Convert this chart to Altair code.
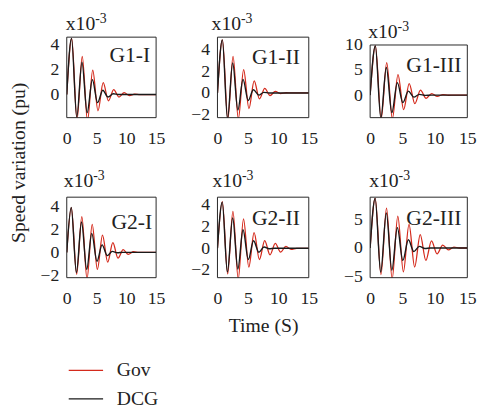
import altair as alt
import pandas as pd

FONT = "Liberation Serif"
RED = "#d42a1c"
BLACK = "#1a1a1a"
TXT = "#222222"
FRAME = "#262626"

series_names = ["Gov", "DCG"]
panel_names = ["G1-I", "G1-II", "G1-III", "G2-I", "G2-II", "G2-III"]
exp_base = "x10"
exp_power = "-3"
y_title = "Speed variation (pu)"
x_title = "Time (S)"
x_ticks = [0, 5, 10, 15]

# ---- G1-I ----
g1i_gov_t = [0, 0.83, 1.72, 2.6, 3.48, 4.36, 5.24, 6.12, 7.0, 7.88, 8.76, 9.64, 10.52, 11.4, 12.3, 15]
g1i_gov_v = [0, 4.5, -2.0, 3.05, -2.1, 1.95, -1.3, 0.95, -0.5, 0.4, -0.2, 0.15, -0.08, 0.04, 0, 0]
g1i_dcg_t = [0, 0.8, 1.68, 2.55, 3.42, 4.3, 5.17, 6.05, 6.92, 7.8, 8.7, 15]
g1i_dcg_v = [0, 4.5, -1.8, 2.6, -1.45, 1.2, -0.65, 0.35, -0.2, 0.06, 0, 0]
# ---- G1-II ----
g1ii_gov_t = [0, 0.82, 1.7, 2.56, 3.43, 4.3, 5.17, 6.03, 6.9, 7.77, 8.64, 9.5, 10.37, 11.3, 12.2, 15]
g1ii_gov_v = [0, 4.95, -2.45, 3.4, -2.4, 2.18, -1.45, 1.12, -0.55, 0.42, -0.24, 0.14, -0.06, 0.02, 0, 0]
g1ii_dcg_t = [0, 0.8, 1.65, 2.5, 3.35, 4.2, 5.05, 5.9, 6.8, 7.6, 8.5, 15]
g1ii_dcg_v = [0, 4.95, -2.4, 2.8, -1.6, 1.27, -0.7, 0.3, -0.2, 0.05, 0, 0]
# ---- G1-III ----
g1iii_gov_t = [0, 0.82, 1.7, 2.56, 3.43, 4.3, 5.17, 6.03, 6.9, 7.77, 8.64, 9.5, 10.37, 11.24, 12.1, 13.0, 15]
g1iii_gov_v = [0, 9.8, -4.7, 6.5, -4.7, 4.1, -2.9, 2.3, -1.7, 1.0, -0.65, 0.3, -0.25, 0.08, -0.03, 0, 0]
g1iii_dcg_t = [0, 0.8, 1.65, 2.5, 3.35, 4.2, 5.05, 5.9, 6.75, 7.6, 8.5, 9.4, 15]
g1iii_dcg_v = [0, 9.8, -4.6, 5.5, -3.5, 2.5, -1.5, 0.8, -0.4, 0.15, -0.05, 0, 0]
# ---- G2-I ----
g2i_gov_t = [0, 0.77, 1.66, 2.53, 3.4, 4.27, 5.14, 6.0, 6.87, 7.74, 8.6, 9.47, 10.34, 11.2, 12.1, 15]
g2i_gov_v = [0, 3.9, -1.9, 3.1, -2.3, 2.44, -1.48, 1.5, -0.85, 0.85, -0.5, 0.23, -0.17, 0.06, 0, 0]
g2i_dcg_t = [0, 0.75, 1.62, 2.48, 3.35, 4.2, 5.07, 5.93, 6.8, 7.65, 8.5, 9.4, 15]
g2i_dcg_v = [0, 3.9, -1.76, 2.64, -1.48, 1.65, -0.77, 0.65, -0.28, 0.09, -0.03, 0, 0]
# ---- G2-II ----
g2ii_gov_t = [0, 0.8, 1.67, 2.54, 3.41, 4.28, 5.15, 6.02, 6.89, 7.76, 8.63, 9.5, 10.37, 11.24, 12.1, 13.0, 15]
g2ii_gov_v = [0, 4.3, -2.35, 3.4, -2.8, 2.7, -1.73, 1.45, -1.03, 0.7, -0.6, 0.45, -0.36, 0.18, -0.1, 0, 0]
g2ii_dcg_t = [0, 0.78, 1.63, 2.5, 3.35, 4.2, 5.07, 5.93, 6.8, 7.65, 8.5, 9.4, 15]
g2ii_dcg_v = [0, 4.25, -2.18, 2.8, -1.9, 1.7, -1.03, 0.7, -0.36, 0.12, -0.04, 0, 0]
# ---- G2-III ----
g2iii_gov_t = [0, 0.79, 1.67, 2.53, 3.4, 4.27, 5.13, 6.0, 6.87, 7.73, 8.6, 9.47, 10.33, 11.2, 12.07, 12.93, 13.8, 15]
g2iii_gov_v = [0, 8.7, -4.65, 7.0, -5.4, 5.57, -4.2, 4.14, -3.33, 2.36, -2.18, 1.26, -1.03, 0.52, -0.34, 0.17, 0, 0]
g2iii_dcg_t = [0, 0.77, 1.63, 2.5, 3.35, 4.2, 5.05, 5.9, 6.75, 7.6, 8.45, 9.3, 15]
g2iii_dcg_v = [0, 8.7, -4.2, 6.15, -3.9, 3.56, -2.18, 1.44, -0.63, 0.29, -0.1, 0, 0]

y_domains = [[-1.85, 4.6], [-2.3, 5.2], [-4.5, 10], [-2.2, 4.8], [-2.7, 4.7], [-5.2, 8.9]]
y_ticks = [[0, 2, 4], [-2, 0, 2, 4], [0, 5, 10], [-2, 0, 2, 4], [-2, 0, 2, 4], [-5, 0, 5]]

W = [91, 93, 99]
H = 82

legend = alt.Legend(
    orient="none", legendX=1, legendY=321, direction="vertical", title=None,
    symbolType="stroke", symbolSize=1225, symbolStrokeWidth=1.3,
    labelFont=FONT, labelFontSize=20, labelColor=TXT, labelOffset=13, rowPadding=-3,
)
color = alt.Color("s:N", scale=alt.Scale(domain=series_names, range=[RED, BLACK]), legend=legend)


def panel(i, gov_t, gov_v, dcg_t, dcg_v, w, exp_dx, exp_dy, lab_margin, lab_dy, top=0,
          xtitle=None, ytitle=False):
    df = pd.DataFrame({
        "t": list(gov_t) + list(dcg_t),
        "v": list(gov_v) + list(dcg_v),
        "s": [series_names[0]] * len(gov_t) + [series_names[1]] * len(dcg_t),
    })
    xaxis = alt.Axis(values=x_ticks, labelFlush=False, labelOverlap=False, title=xtitle)
    x = alt.X("t:Q", scale=alt.Scale(domain=[0, 15], nice=False), axis=xaxis)
    y = alt.Y("v:Q", scale=alt.Scale(domain=y_domains[i], nice=False, zero=False, range=[H, top]),
              axis=alt.Axis(values=y_ticks[i], labelOverlap=False, title=None))
    base = alt.Chart(df)
    gov = base.transform_filter(alt.datum.s == series_names[0]).mark_line(
        interpolate="monotone", strokeWidth=1.3, clip=True).encode(x=x, y=y, color=color)
    dcg = base.transform_filter(alt.datum.s == series_names[1]).mark_line(
        interpolate="monotone", strokeWidth=1.4, clip=True).encode(x=x, y=y, color=color)
    tdf = pd.DataFrame({"name": [panel_names[i]], "b": [exp_base], "p": [exp_power], "yt": [y_title]})
    tb = alt.Chart(tdf)
    frame = tb.mark_rect(fill="transparent", stroke=FRAME, strokeWidth=1).encode(
        x=alt.value(0), x2=alt.value(w), y=alt.value(top), y2=alt.value(H))
    lab = tb.mark_text(align="right", baseline="middle", font=FONT, fontSize=22, color=TXT).encode(
        text="name:N", x=alt.value(w - lab_margin), y=alt.value(top + lab_dy))
    eb = tb.mark_text(align="left", baseline="alphabetic", font=FONT, fontSize=20, color=TXT).encode(
        text="b:N", x=alt.value(exp_dx), y=alt.value(top + exp_dy))
    ep = tb.mark_text(align="left", baseline="alphabetic", font=FONT, fontSize=14, color=TXT).encode(
        text="p:N", x=alt.value(exp_dx + 30), y=alt.value(top + exp_dy - 7))
    layers = [gov, dcg, frame, lab, eb, ep]
    if ytitle:
        layers.append(tb.mark_text(align="center", baseline="middle", angle=270, font=FONT,
                                   fontSize=20, color=TXT).encode(
            text="yt:N", x=alt.value(-49), y=alt.value(128)))
    return alt.layer(*layers).properties(width=w, height=H)


p1 = panel(0, g1i_gov_t, g1i_gov_v, g1i_dcg_t, g1i_dcg_v, W[0], -1, -7, 6, 18, ytitle=True)
p2 = panel(1, g1ii_gov_t, g1ii_gov_v, g1ii_dcg_t, g1ii_dcg_v, W[1], -6, -7, 9, 20)
p3 = panel(2, g1iii_gov_t, g1iii_gov_v, g1iii_dcg_t, g1iii_dcg_v, W[2], -2, -7, 6, 21, top=8)
p4 = panel(3, g2i_gov_t, g2i_gov_v, g2i_dcg_t, g2i_dcg_v, W[0], -3, -10, 4, 25)
p5 = panel(4, g2ii_gov_t, g2ii_gov_v, g2ii_dcg_t, g2ii_dcg_v, W[1], -5, -10, 9, 21, xtitle=x_title)
p6 = panel(5, g2iii_gov_t, g2iii_gov_v, g2iii_dcg_t, g2iii_dcg_v, W[2], -1, -10, 6, 21)

chart = alt.concat(
    p1, p2, p3, p4, p5, p6, columns=3, spacing={"row": 81, "column": 62.5}, bounds="flush"
).properties(
    padding={"left": 8, "top": 8, "right": 8, "bottom": 0},
).configure_view(stroke="transparent").configure_axis(
    labelFont=FONT, labelFontSize=18, labelColor=TXT, titleFont=FONT, titleFontSize=20,
    titleFontWeight="normal", titleColor=TXT, grid=False, domain=False, ticks=False,
).configure_axisX(labelPadding=12, titlePadding=9).configure_axisY(labelPadding=8)

chart.save("out.html", embed_options={"renderer": "svg", "actions": False})
